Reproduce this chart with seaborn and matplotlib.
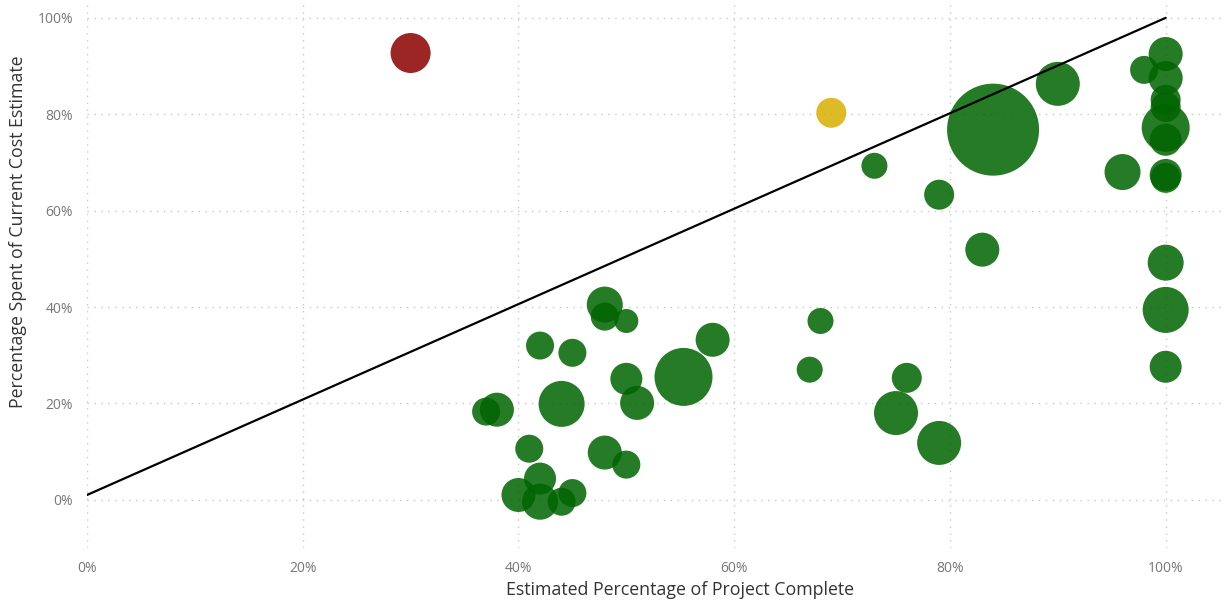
import matplotlib
matplotlib.use("Agg")
import matplotlib.pyplot as plt
from matplotlib.ticker import PercentFormatter, MultipleLocator
import seaborn as sns
import pandas as pd

# Project portfolio: completion vs. share of cost estimate spent
pct_complete = [30, 69,
                84, 90, 73, 79, 83, 96,
                100, 98, 100, 100, 100, 100, 100, 100, 100, 100, 100, 100,
                68, 67, 76, 75, 79, 58, 55.3,
                48, 48, 50, 42, 45, 50, 51, 44, 38, 37,
                41, 48, 50, 42, 40, 42, 44, 45]
pct_spent = [92.7, 80.3,
             76.8, 86.3, 69.3, 63.3, 51.9, 68.0,
             92.5, 89.2, 87.5, 83.0, 81.5, 77.2, 74.7, 67.4, 66.8, 49.2, 39.4, 27.6,
             37.1, 27.0, 25.3, 18.0, 11.8, 33.2, 25.5,
             40.5, 38.0, 37.1, 32.0, 30.5, 25.1, 20.1, 19.9, 18.7, 18.3,
             10.6, 9.8, 7.3, 4.4, 1.0, -0.4, -0.4, 1.4]
budget_m = [40.0, 22.5,
            211.6, 48.4, 16.9, 22.5, 28.9, 32.4,
            28.9, 19.6, 28.9, 22.5, 22.5, 57.6, 25.6, 25.6, 22.5, 32.4, 52.9, 25.6,
            16.9, 16.9, 22.5, 48.4, 48.4, 28.9, 84.1,
            32.4, 19.6, 14.4, 19.6, 19.6, 25.6, 28.9, 52.9, 28.9, 19.6,
            19.6, 28.9, 19.6, 25.6, 28.9, 32.4, 19.6, 19.6]
status = ["Over budget", "At risk"] + ["On track"] * 43

# Reference line of spend vs. completion
ref_x = [0, 100]
ref_y = [1, 100]

df = pd.DataFrame({"complete": pct_complete, "spent": pct_spent,
                   "budget": budget_m, "status": status})

sns.set_theme(style="white")
plt.rcParams["font.family"] = ["Open Sans", "DejaVu Sans"]

fig = plt.figure(figsize=(12.31, 6.03), dpi=100)
ax = fig.add_axes([87 / 1231, 55 / 603, 1138 / 1231, 548 / 603])

palette = {"Over budget": "#8B0000", "At risk": "#D8B000", "On track": "#006400"}
max_b = max(budget_m)
sns.scatterplot(data=df, x="complete", y="spent", hue="status", palette=palette,
                size="budget", sizes=(0, 2.0736 * 10 * max_b), size_norm=(0, max_b),
                alpha=0.85, linewidth=0, legend=False, ax=ax, zorder=2)

ax.plot(ref_x, ref_y, color="black", lw=1.6, zorder=3)

ax.set_xlim(0, 105.5)
ax.set_ylim(-10, 103.7)
ax.xaxis.set_major_locator(MultipleLocator(20))
ax.yaxis.set_major_locator(MultipleLocator(20))
ax.xaxis.set_major_formatter(PercentFormatter(100, decimals=0))
ax.yaxis.set_major_formatter(PercentFormatter(100, decimals=0))
ax.grid(True, color="#c8c8c8", linestyle=(0, (1, 4)), linewidth=1)
ax.set_axisbelow(True)
for s in ax.spines.values():
    s.set_visible(False)
ax.tick_params(axis="both", length=0, labelsize=10, labelcolor="#777777")
ax.tick_params(axis="x", pad=9)
ax.tick_params(axis="y", pad=10)

ax.set_xlabel("Estimated Percentage of Project Complete", fontsize=12.8, color="#333333")
ax.set_ylabel("Percentage Spent of Current Cost Estimate", fontsize=12.8, color="#333333")
ax.xaxis.set_label_coords((680 - 87) / 1138, -(590 - 548) / 548)
ax.yaxis.set_label_coords(-(87 - 18) / 1138, (548 - 232) / 548)
ax.xaxis.label.set_va("center")
ax.yaxis.label.set_va("center")

fig.savefig("out.png", dpi=100)
